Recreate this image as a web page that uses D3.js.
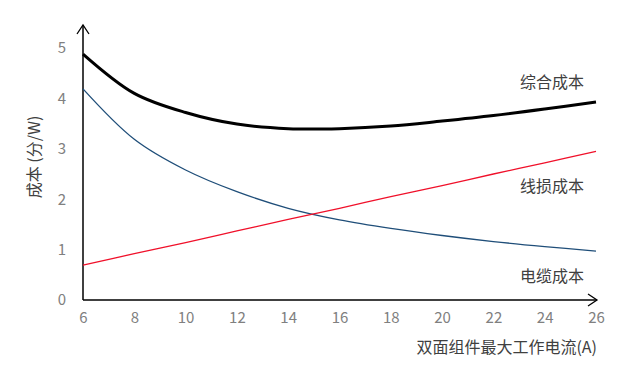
<!DOCTYPE html>
<meta charset="utf-8">
<style>
body { margin: 0; background: #fff; }
text { font-family: "Noto Sans CJK SC", "Noto Sans", sans-serif; }
.tick text { fill: #808080; font-size: 15px; }
.curve { fill: none; }
</style>
<script src="https://cdn.jsdelivr.net/npm/d3@7/dist/d3.min.js"></script>
<body>
<script>

var current = [6, 8, 10, 12, 14, 16, 18, 20, 22, 24, 26];
var total   = [4.88, 4.10, 3.72, 3.49, 3.40, 3.40, 3.45, 3.55, 3.66, 3.79, 3.93];
var loss    = [0.69, 0.92, 1.14, 1.37, 1.60, 1.82, 2.05, 2.27, 2.50, 2.72, 2.95];
var cable   = [4.19, 3.19, 2.58, 2.15, 1.82, 1.59, 1.42, 1.28, 1.16, 1.06, 0.97];
var seriesNames = ["综合成本", "线损成本", "电缆成本"];
var xTicks = [6, 8, 10, 12, 14, 16, 18, 20, 22, 24, 26];
var yTicks = [0, 1, 2, 3, 4, 5];

var width = 643,
    height = 370;

var svg = d3.select("body")
              .append("svg")
              .attr("width", width)
              .attr("height", height);

var x = d3.scaleLinear().domain([6, 26]).range([83, 596]);
var y = d3.scaleLinear().domain([0, 5]).range([300, 48]);

// axes
var xAxis = svg.append("g")
    .attr("transform", "translate(0,300)")
    .call(d3.axisBottom(x).tickValues(xTicks).tickSize(0).tickPadding(12).tickFormat(d3.format("d")));
var yAxis = svg.append("g")
    .attr("transform", "translate(83,0)")
    .call(d3.axisLeft(y).tickValues(yTicks).tickSize(0).tickPadding(17).tickFormat(d3.format("d")));
xAxis.select(".domain").remove();
yAxis.select(".domain").remove();

svg.append("line")
    .attr("x1", x(6)).attr("x2", x(26) + 1)
    .attr("y1", y(0)).attr("y2", y(0))
    .attr("stroke", "#000").attr("stroke-width", 1.5);
svg.append("line")
    .attr("x1", x(6)).attr("x2", x(6))
    .attr("y1", y(0)).attr("y2", 25)
    .attr("stroke", "#000").attr("stroke-width", 1.5);
// arrow heads
svg.append("path")
    .attr("d", "M" + (x(26) - 8) + "," + (y(0) - 6) + "L" + (x(26) + 1) + "," + y(0) + "L" + (x(26) - 8) + "," + (y(0) + 6))
    .attr("fill", "none").attr("stroke", "#000").attr("stroke-width", 1.3);
svg.append("path")
    .attr("d", "M" + (x(6) - 6) + ",34L" + x(6) + ",25L" + (x(6) + 6) + ",34")
    .attr("fill", "none").attr("stroke", "#000").attr("stroke-width", 1.3);

var line = d3.line()
    .x(function (d) { return x(d[0]); })
    .y(function (d) { return y(d[1]); })
    .curve(d3.curveCatmullRom.alpha(0.5));

var series = [
  { values: cable, color: "#1f4e79", w: 1.3 },
  { values: loss,  color: "#f0102a", w: 1.3 },
  { values: total, color: "#000",    w: 3 }
];

svg.selectAll(".curve")
    .data(series)
    .enter()
      .append("path")
        .attr("class", "curve")
        .attr("d", function (s) { return line(current.map(function (c, i) { return [c, s.values[i]]; })); })
        .attr("stroke", function (s) { return s.color; })
        .attr("stroke-width", function (s) { return s.w; });

// series labels
var labelY = [82, 186, 276];
svg.selectAll(".lbl")
    .data(seriesNames)
    .enter()
      .append("text")
        .attr("x", 584)
        .attr("y", function (d, i) { return labelY[i]; })
        .attr("dy", "0.35em")
        .attr("text-anchor", "end")
        .attr("font-size", "16px")
        .attr("fill", "#404040")
        .text(function (d) { return d; });

// axis titles
svg.append("text")
    .attr("x", 597)
    .attr("y", 347)
    .attr("dy", "0.35em")
    .attr("text-anchor", "end")
    .attr("font-size", "16px")
    .attr("fill", "#404040")
    .text("双面组件最大工作电流(A)");

svg.append("text")
    .attr("transform", "translate(34,157) rotate(-90)")
    .attr("dy", "0.35em")
    .attr("text-anchor", "middle")
    .attr("font-size", "16px")
    .attr("fill", "#404040")
    .text("成本 (分/W)");

</script>
</body>
